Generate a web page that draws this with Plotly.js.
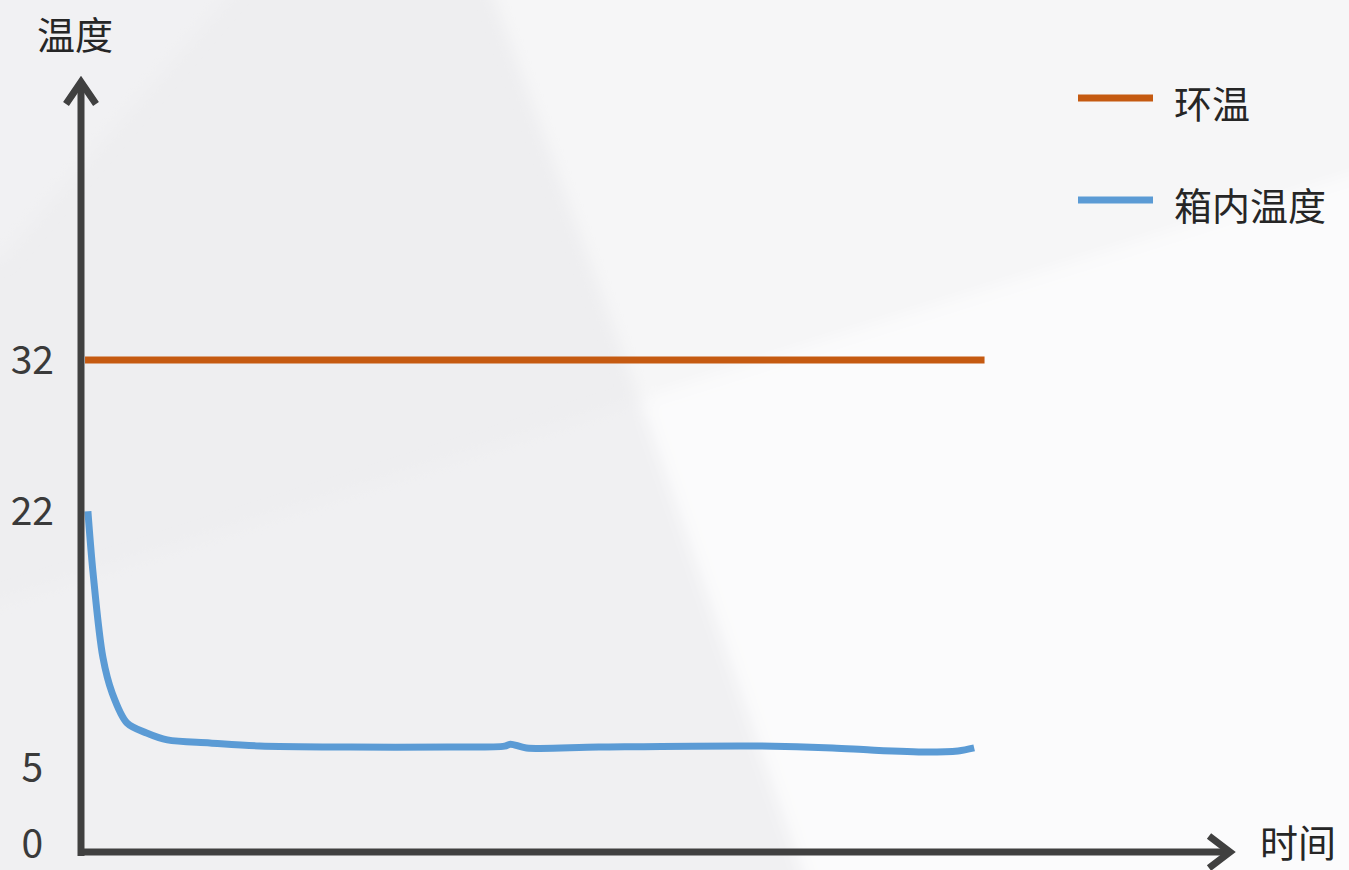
<!DOCTYPE html>
<html>
<head>
<meta charset="utf-8">
<script src="https://cdn.plot.ly/plotly-3.0.1.min.js"></script>
<style>
html, body { margin: 0; padding: 0; }
body {
  width: 1349px; height: 870px; overflow: hidden;
  background: url("data:image/svg+xml;utf8,<svg xmlns='http://www.w3.org/2000/svg' width='1349' height='870'><defs><filter id='b' x='-10%' y='-10%' width='120%' height='120%'><feGaussianBlur stdDeviation='8'/></filter></defs><rect width='1349' height='870' fill='%23eeeef0'/><g filter='url(%23b)'><polygon points='-40,615 640,400 815,910 -40,910' fill='%23f0f0f2'/><polygon points='-40,-40 260,-40 0,260 -40,260' fill='%23f1f1f3'/><polygon points='480,-40 1400,-40 1400,160 640,400' fill='%23f6f6f7'/><polygon points='640,400 1400,160 1400,910 815,910' fill='%23fbfbfc'/></g></svg>") no-repeat;
}
#chart { width: 1349px; height: 870px; }
</style>
</head>
<body>
<div id="chart"></div>
<script>
// ---- data ----
const ambientName = '环温';
const ambientTime = [0.35, 78.5];
const ambientTemp = [32, 32];

const boxName = '箱内温度';
const boxTime = [0.6, 1.05, 1.9, 2.7, 4.0, 5.7, 7.5, 11.2, 15.5, 23.4, 32.0, 36.8, 37.3, 38.7, 45.0, 58.6, 65.3, 68.6, 73.5, 76.2, 77.6];
const boxTemp = [22.0, 17.9, 12.35, 10.0, 8.0, 7.34, 6.88, 6.68, 6.48, 6.41, 6.41, 6.47, 6.6, 6.35, 6.41, 6.48, 6.35, 6.21, 6.08, 6.15, 6.35];

const yTickVals = [0, 5, 22, 32];
const yTickText = ['0\u2008', '5\u2008', '22', '32'];

const yAxisLabel = '温度';
const xAxisLabel = '时间';

// ---- layout helpers ----
const W = 1349, H = 870;
const M = { l: 81, r: 117, t: 70, b: 26 };
const PW = W - M.l - M.r, PH = H - M.t - M.b;
const px = x => (x - M.l) / PW;
const py = y => (H - M.b - y) / PH;

const FONT = '"Noto Sans CJK SC", "Noto Sans", sans-serif';
const AXIS = '#404040';
const TXT = '#262626';
const COLORS = ['#c55a11', '#5b9bd5'];

const traces = [
  {
    x: ambientTime, y: ambientTemp, name: ambientName, type: 'scatter', mode: 'lines',
    line: { color: COLORS[0], width: 7 }, hoverinfo: 'skip'
  },
  {
    x: boxTime, y: boxTemp, name: boxName, type: 'scatter', mode: 'lines',
    line: { color: COLORS[1], width: 7, shape: 'spline', smoothing: 0.9 }, hoverinfo: 'skip'
  }
];

const shapes = [
  // y axis line
  { type: 'line', xref: 'paper', yref: 'paper', x0: 0, x1: 0, y0: py(856), y1: py(82),
    line: { color: AXIS, width: 7 } },
  // x axis line
  { type: 'line', xref: 'paper', yref: 'paper', x0: px(78), x1: px(1230), y0: py(852), y1: py(852),
    line: { color: AXIS, width: 7 } },
  // y arrow head
  { type: 'path', xref: 'paper', yref: 'paper',
    path: `M${px(66)},${py(104)} L${px(81)},${py(82)} L${px(96)},${py(104)}`,
    line: { color: AXIS, width: 7 } },
  // x arrow head
  { type: 'path', xref: 'paper', yref: 'paper',
    path: `M${px(1209)},${py(836)} L${px(1230)},${py(852)} L${px(1209)},${py(868)}`,
    line: { color: AXIS, width: 7 } }
];

const annotations = [
  { text: yAxisLabel, xref: 'paper', yref: 'paper', x: px(75), y: py(33),
    xanchor: 'center', yanchor: 'middle', showarrow: false,
    font: { family: FONT, size: 38, color: TXT } },
  { text: xAxisLabel, xref: 'paper', yref: 'paper', x: px(1298), y: py(840),
    xanchor: 'center', yanchor: 'middle', showarrow: false,
    font: { family: FONT, size: 38, color: TXT } }
];

// legend drawn as line samples + labels, built from the trace names/colours
const legendNames = [ambientName, boxName];
const legendRows = [98, 200];
legendNames.forEach((nm, i) => {
  shapes.push({ type: 'line', xref: 'paper', yref: 'paper',
    x0: px(1078), x1: px(1153), y0: py(legendRows[i]), y1: py(legendRows[i]),
    line: { color: COLORS[i], width: 7 } });
  annotations.push({ text: nm, xref: 'paper', yref: 'paper', x: px(1172), y: py(legendRows[i] + 3),
    xanchor: 'left', yanchor: 'middle', showarrow: false,
    font: { family: FONT, size: 38, color: TXT } });
});

const layout = {
  width: W, height: H,
  margin: M,
  paper_bgcolor: 'rgba(0,0,0,0)',
  plot_bgcolor: 'rgba(0,0,0,0)',
  showlegend: false,
  xaxis: { range: [0, 100], showgrid: false, zeroline: false, showline: false,
    showticklabels: false, ticks: '', fixedrange: true },
  yaxis: { range: [0, PH / 15.125], showgrid: false, zeroline: false, showline: false,
    tickmode: 'array', tickvals: yTickVals, ticktext: yTickText, ticks: '',
    ticklabelstandoff: 26, ticklabeloverflow: 'allow',
    tickfont: { family: FONT, size: 39, color: '#3a3a3a' }, fixedrange: true },
  shapes: shapes,
  annotations: annotations
};

Plotly.newPlot('chart', traces, layout, { displayModeBar: false, staticPlot: true });
</script>
</body>
</html>
